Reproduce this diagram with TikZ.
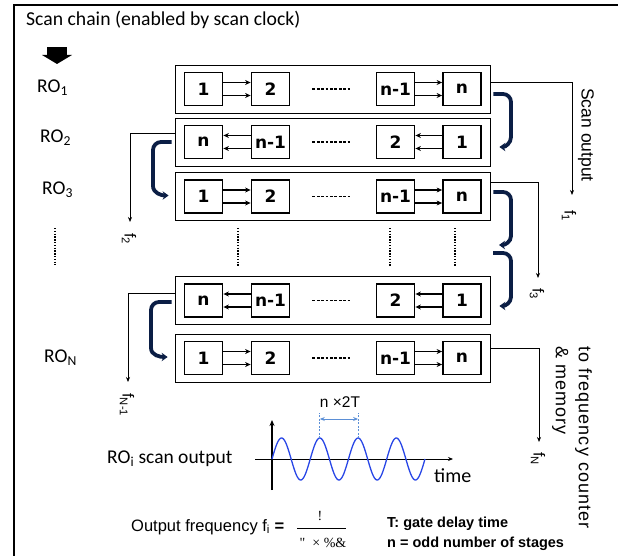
\documentclass[tikz,border=0pt]{standalone}
\usepackage{fontspec}
\setmainfont{Liberation Sans}
\newfontfamily\calfont{Carlito}
\newfontfamily\dvfont{DejaVu Sans}
\newfontfamily\serfont{Liberation Serif}
\usetikzlibrary{arrows.meta,calc}
\definecolor{navy}{HTML}{0B1E45}
\definecolor{wave}{HTML}{2846E6}
\definecolor{lblue}{HTML}{5B8FD6}
\begin{document}
\begin{tikzpicture}[x=1pt,y=-1pt,
  rowbox/.style={draw,line width=0.8pt,minimum width=315pt,minimum height=48pt,inner sep=0pt},
  cell/.style={draw,line width=1.8pt,minimum width=38pt,minimum height=33pt,inner sep=0pt,font=\dvfont\bfseries\fontsize{17}{17}\selectfont},
  link/.style={line width=1.2pt,-{Stealth[length=5.5pt,width=5pt]}},
  brk/.style={navy,line width=3.8pt,-{Stealth[length=6pt,width=8.5pt]}},
  outl/.style={line width=0.7pt,-{Stealth[length=5pt,width=4pt]}},
  flab/.style={rotate=-90,inner sep=0pt,font=\fontsize{16}{16}\selectfont},
  dotl/.style={line width=1.3pt,dash pattern=on 2.8pt off 1.6pt},
  vdot/.style={line width=1.6pt,dash pattern=on 1.4pt off 1.4pt},
  rolab/.style={anchor=west,inner sep=0pt,font=\calfont\fontsize{19.5}{20}\selectfont}
]
\useasboundingbox (0,0) rectangle (618,556);
% frame
\draw[line width=1.3pt] (14,556) -- (14,5) -- (618,5);
% title
\node[anchor=west,inner sep=0pt,font=\calfont\fontsize{19.7}{20}\selectfont] (title) at (26,20) {Scan chain (enabled by scan clock)};
% block arrow
\fill (47,47) rectangle (67,55);
\fill (42,55) -- (72,55) -- (57,64) -- cycle;
% RO labels
\node[rolab] (ro1) at (37,88) {RO\textsubscript{1}};
\node[rolab] (ro2) at (40,138) {RO\textsubscript{2}};
\node[rolab] (ro3) at (42,190) {RO\textsubscript{3}};
\node[rolab] (ron) at (44,358) {RO\textsubscript{N}};
\draw[vdot] (55,228) -- (55,265);
% rows
\node[rowbox] (r1) at (332.5,89) {};
\node[rowbox] (r2) at (332.5,142) {};
\node[rowbox] (r3) at (332.5,196.5) {};
\node[rowbox] (r4) at (332.5,300.5) {};
\node[rowbox] (r5) at (332.5,358) {};
% row 1
\node[cell] (a1) at (203.5,89) {1};
\node[cell] (b1) at (270.5,89) {2};
\node[cell] (c1) at (395.5,89) {n-1};
\node[cell] (d1) at (462,89) {n};
% row 2
\node[cell] (a2) at (203.5,142) {n};
\node[cell] (b2) at (270.5,142) {n-1};
\node[cell] (c2) at (395.5,142) {2};
\node[cell] (d2) at (462,142) {1};
% row 3
\node[cell] (a3) at (203.5,196.5) {1};
\node[cell] (b3) at (270.5,196.5) {2};
\node[cell] (c3) at (395.5,196.5) {n-1};
\node[cell] (d3) at (462,196.5) {n};
% row 4
\node[cell] (a4) at (203.5,300.5) {n};
\node[cell] (b4) at (270.5,300.5) {n-1};
\node[cell] (c4) at (395.5,300.5) {2};
\node[cell] (d4) at (462,300.5) {1};
% row 5
\node[cell] (a5) at (203.5,358) {1};
\node[cell] (b5) at (270.5,358) {2};
\node[cell] (c5) at (395.5,358) {n-1};
\node[cell] (d5) at (462,358) {n};
% links
\foreach \s in {6.5,-6.5}{
  \draw[link] ([yshift=\s pt]a1.east) -- ([yshift=\s pt]b1.west);
  \draw[link] ([yshift=\s pt]c1.east) -- ([yshift=\s pt]d1.west);
  \draw[link] ([yshift=\s pt]b2.west) -- ([yshift=\s pt]a2.east);
  \draw[link] ([yshift=\s pt]d2.west) -- ([yshift=\s pt]c2.east);
  \draw[link] ([yshift=\s pt]a3.east) -- ([yshift=\s pt]b3.west);
  \draw[link] ([yshift=\s pt]c3.east) -- ([yshift=\s pt]d3.west);
  \draw[link] ([yshift=\s pt]b4.west) -- ([yshift=\s pt]a4.east);
  \draw[link] ([yshift=\s pt]d4.west) -- ([yshift=\s pt]c4.east);
  \draw[link] ([yshift=\s pt]a5.east) -- ([yshift=\s pt]b5.west);
  \draw[link] ([yshift=\s pt]c5.east) -- ([yshift=\s pt]d5.west);
}
% dashes between cells
\foreach \r in {1,...,5}{
  \draw[dotl] ($(b\r.east)+(22,0)$) -- ($(c\r.west)-(25,0)$);
}
% vertical dots between rows
\draw[vdot] (238,228) -- (238,267);
\draw[vdot] (390,228) -- (390,267);
\draw[vdot] (455,228) -- (455,267);
% right brackets
\draw[brk] ($(r1.east)+(3,5)$) -- (503,94) to[out=0,in=90] (511,102) -- (511,137) to[out=-90,in=0] ($(r2.east)+(9,5)$);
\draw[brk] ($(r3.east)+(3,-4.5)$) -- (503,192) to[out=0,in=90] (511,200) -- (511,236) to[out=-90,in=0] (499,245);
\draw[brk] (493,253) -- (503,253) to[out=0,in=90] (511,261) -- (511,297) to[out=-90,in=0] ($(r4.east)+(9,5.5)$);
% left brackets
\draw[brk] ($(r2.west)+(-3,0)$) -- (161,142) to[out=180,in=90] (153,150) -- (153,186) to[out=-90,in=180] ($(r3.west)+(-6,-1)$);
\draw[brk] ($(r4.west)+(-3,1.5)$) -- (159,302) to[out=180,in=90] (151,310) -- (151,348) to[out=-90,in=180] ($(r5.west)+(-7,-1)$);
% scan outputs
\coordinate (o1) at (572,195);
\coordinate (o2) at (130,222);
\coordinate (o3) at (538,278);
\coordinate (o4) at (128,382);
\coordinate (o5) at (539,442);
\draw[outl] ($(r1.east)+(0,-7)$) -| (o1);
\draw[outl] ($(r2.west)+(0,-9)$) -| (o2);
\draw[outl] ($(r3.east)+(0,-14.5)$) -| (o3);
\draw[outl] ($(r4.west)+(0,-7.5)$) -| (o4);
\draw[outl] ($(r5.east)+(0,-10)$) -| (o5);
\node[flab] (f1) at (569,216) {f\textsubscript{1}};
\node[flab] (f2) at (129,239) {f\textsubscript{2}};
\node[flab] (f3) at (537,294) {f\textsubscript{3}};
\node[flab] (f4) at (127,405) {f\textsubscript{N-1}};
\node[flab] (f5) at (538,459) {f\textsubscript{N}};
\node[rotate=-90,inner sep=0pt,font=\fontsize{17.5}{17}\selectfont] (scanout) at (586,135) {Scan output};
\node[rotate=-90,anchor=north west,align=left,inner sep=0pt,font=\fontsize{18}{23}\selectfont\addfontfeature{LetterSpace=6}] (tofc) at (592,346) {to frequency counter\\\& memory};
% waveform
\draw[line width=1.4pt,-{Stealth[length=6pt,width=5pt]}] (272,490) -- (272,420);
\draw[line width=0.8pt,-{Stealth[length=5pt,width=4pt]}] (255,459) -- (453,459);
\draw[wave,line width=1.3pt,domain=0:153,samples=200,smooth] plot ({272+\x},{459-21*sin(\x*9.412)});
\coordinate (p1) at (319.8,438);
\coordinate (p2) at (358.1,438);
\draw[lblue,line width=0.7pt,dash pattern=on 2pt off 1.5pt] (p1) -- ($(p1)+(0,-25)$);
\draw[lblue,line width=0.7pt,dash pattern=on 2pt off 1.5pt] (p2) -- ($(p2)+(0,-25)$);
\draw[lblue,line width=1pt,{Stealth[length=5pt,width=4pt]}-{Stealth[length=5pt,width=4pt]}] ($(p1)+(0,-19)$) -- ($(p2)+(0,-19)$);
\node[font=\fontsize{15.5}{15}\selectfont] (per) at (340,402) {n ×2T};
\node[anchor=west,inner sep=0pt,font=\calfont\fontsize{19.5}{19}\selectfont] (rosig) at (107,459) {RO\textsubscript{i} scan output};
\node[anchor=west,inner sep=0pt,font=\calfont\fontsize{20}{20}\selectfont] (time) at (434,476) {time};
% formula
\node[anchor=west,inner sep=0pt,font=\fontsize{16.5}{16}\selectfont] (ofreq) at (131,527) {Output frequency f\textsubscript{i} \textbf{=}};
\draw[line width=0.8pt] (297,528) -- (346,528);
\node[font=\serfont\fontsize{14}{14}\selectfont] (num) at (320,516) {!};
\node[font=\serfont\fontsize{14}{14}\selectfont] (den) at (323,543) {"\ \ ×\ \%\&};
\node[anchor=west,inner sep=0pt,font=\bfseries\fontsize{14.5}{15}\selectfont] (tdef) at (387,524) {T: gate delay time};
\node[anchor=west,inner sep=0pt,font=\bfseries\fontsize{14.5}{15}\selectfont] (ndef) at (387,544) {n = odd number of stages};
\end{tikzpicture}
\end{document}
